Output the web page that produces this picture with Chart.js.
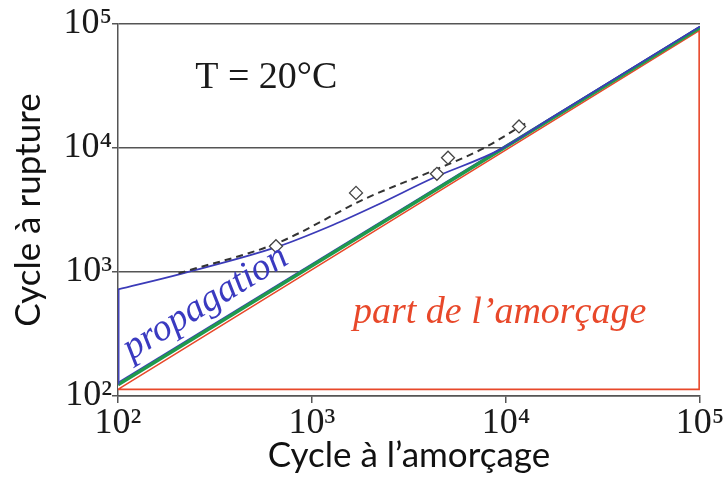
<!DOCTYPE html>
<html>
<head>
<meta charset="utf-8">
<script src="https://cdn.jsdelivr.net/npm/chart.js@4"></script>
<style>
  html, body { margin: 0; padding: 0; background: #fff; }
  #wrap { width: 727px; height: 479px; }
</style>
</head>
<body>
<div id="wrap"><canvas id="chart"></canvas></div>
<script>
// ticks (powers of ten)
const tickValues = [100, 1000, 10000, 100000];
const superscripts = { 2: '²', 3: '³', 4: '⁴', 5: '⁵' };

// essais : cycle à l'amorçage / cycle à rupture
const testInit = [652, 1686, 4406, 5025, 11670];
const testRupture = [1615, 4345, 6194, 8356, 14930];

// courbe pointillée (ajustement)
const dashedInit = [205, 661, 1923, 4207, 7600, 12820];
const dashedRupture = [975, 1710, 3965, 6560, 9890, 16070];

// propagation : borne haute
const propHighInit = [100, 209, 661, 1282, 2163, 4207, 9310, 17000, 100000];
const propHighRupture = [724, 963, 1592, 2393, 3467, 5728, 9700, 17400, 95500];

// propagation : segment vertical à 10^2
const propEdgeInit = [100, 100];
const propEdgeRupture = [124, 724];

// propagation : borne basse
const propLowInit = [100, 100000];
const propLowRupture = [128, 95000];

// diagonale verte
const greenInit = [100, 100000];
const greenRupture = [123, 93500];

// part de l'amorçage (triangle rouge)
const redInit = [100, 99000, 99000, 100];
const redRupture = [113, 88500, 113, 113];

const toPoints = (xs, ys) => xs.map((v, i) => ({ x: v, y: ys[i] }));
const gray = '#555';

const annotations = {
  id: 'annotations',
  afterDatasetsDraw(chart) {
    const { ctx, scales: { x, y } } = chart;
    ctx.save();
    ctx.textBaseline = 'alphabetic';

    ctx.fillStyle = '#1a1a1a';
    ctx.font = '38px "Liberation Serif"';
    ctx.fillText('T = 20°C', x.getPixelForValue(250), y.getPixelForValue(30500));

    ctx.fillStyle = '#e8482a';
    ctx.font = 'italic 38px "Liberation Serif"';
    ctx.fillText('part de l’amorçage', x.getPixelForValue(1626), y.getPixelForValue(385));

    ctx.fillStyle = '#3a3ac0';
    ctx.font = 'italic 38px "Liberation Serif"';
    ctx.translate(x.getPixelForValue(117), y.getPixelForValue(194));
    ctx.rotate(-31.5 * Math.PI / 180);
    ctx.fillText('propagation', 0, 0);
    ctx.restore();
  }
};

const tickLabel = (v) => '10' + (superscripts[Math.round(Math.log10(v))] || '');

new Chart(document.getElementById('chart'), {
  type: 'scatter',
  data: {
    datasets: [
      {
        data: toPoints(testInit, testRupture),
        pointStyle: 'rectRot',
        pointRadius: 6.5,
        borderColor: '#444',
        backgroundColor: '#fff',
        borderWidth: 1.3,
        showLine: false
      },
      {
        data: toPoints(dashedInit, dashedRupture),
        showLine: true,
        borderColor: '#333',
        borderWidth: 2,
        borderDash: [7, 5],
        pointRadius: 0,
        cubicInterpolationMode: 'monotone'
      },
      {
        data: toPoints(propHighInit, propHighRupture),
        showLine: true,
        borderColor: '#3b3bb8',
        borderWidth: 1.8,
        pointRadius: 0,
        cubicInterpolationMode: 'monotone'
      },
      {
        data: toPoints(propEdgeInit, propEdgeRupture),
        showLine: true,
        borderColor: '#4444b8',
        borderWidth: 3,
        pointRadius: 0
      },
      {
        data: toPoints(greenInit, greenRupture),
        showLine: true,
        borderColor: '#1f9a4c',
        borderWidth: 3.5,
        pointRadius: 0
      },
      {
        data: toPoints(propLowInit, propLowRupture),
        showLine: true,
        borderColor: '#3b3bb8',
        borderWidth: 1.5,
        pointRadius: 0
      },
      {
        data: toPoints(redInit, redRupture),
        showLine: true,
        borderColor: '#e8482a',
        borderWidth: 1.6,
        pointRadius: 0
      },
      {
        // white area below the diagonal (hides the grid lines)
        data: toPoints(greenInit, greenRupture),
        showLine: true,
        borderWidth: 0,
        borderColor: 'rgba(0,0,0,0)',
        backgroundColor: '#fff',
        fill: { value: 113 },
        pointRadius: 0
      }
    ]
  },
  options: {
    responsive: true,
    maintainAspectRatio: false,
    animation: false,
    layout: { padding: { top: 24, right: 27, left: 0, bottom: 0 } },
    plugins: {
      legend: { display: false },
      tooltip: { enabled: false }
    },
    scales: {
      x: {
        type: 'logarithmic',
        min: 100,
        max: 100000,
        afterBuildTicks: (s) => { s.ticks = tickValues.map(v => ({ value: v, major: true })); },
        afterFit: (s) => { s.height = 83; s.paddingLeft = 0; s.paddingRight = 0; },
        grid: { drawOnChartArea: false, color: gray, lineWidth: 1.5, tickLength: 7 },
        border: { color: gray, width: 1.5 },
        ticks: {
          autoSkip: false,
          maxRotation: 0,
          padding: -1,
          color: '#1a1a1a',
          font: { family: 'Liberation Serif', size: 36 },
          callback: tickLabel
        },
        title: {
          display: true,
          text: 'Cycle à l’amorçage',
          color: '#111',
          font: { family: 'Lato', size: 35 },
          padding: { top: 0, bottom: 2 }
        }
      },
      y: {
        type: 'logarithmic',
        min: 100,
        max: 100000,
        afterBuildTicks: (s) => { s.ticks = tickValues.map(v => ({ value: v, major: true })); },
        afterFit: (s) => { s.width = 118; s.paddingTop = 0; s.paddingBottom = 0; },
        grid: { color: gray, lineWidth: 1.5, tickLength: 6 },
        border: { color: gray, width: 1.5 },
        ticks: {
          autoSkip: false,
          padding: 0,
          color: '#1a1a1a',
          font: { family: 'Liberation Serif', size: 36 },
          callback: tickLabel
        },
        title: {
          display: true,
          text: 'Cycle à rupture',
          color: '#111',
          font: { family: 'Lato', size: 35 },
          padding: { top: 8, bottom: 0 }
        }
      }
    }
  },
  plugins: [annotations]
});
</script>
</body>
</html>
